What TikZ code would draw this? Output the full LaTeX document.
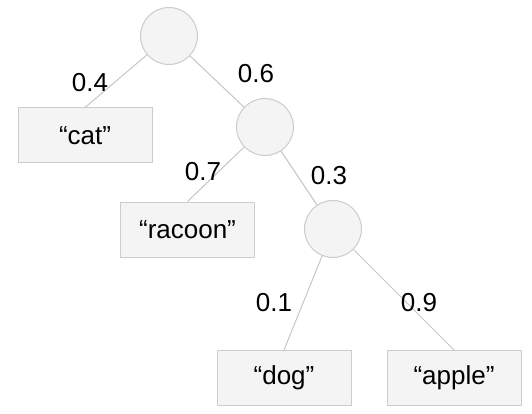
\documentclass[tikz,border=0pt]{standalone}
\usepackage{fontspec}
\setmainfont{Liberation Sans}
\definecolor{nodefill}{HTML}{F4F4F4}
\definecolor{nodeline}{HTML}{CCCCCC}
\definecolor{edgeline}{HTML}{C6C6C6}
\tikzset{
	split/.style={circle, draw=nodeline, fill=nodefill, line width=1pt, minimum size=57pt, inner sep=0pt},
	leaf/.style={rectangle, draw=nodeline, fill=nodefill, line width=1pt, minimum width=134pt, minimum height=55pt, inner sep=0pt, font=\fontsize{26}{30}\selectfont},
	prob/.style={font=\fontsize{26}{30}\selectfont, inner sep=0pt},
	branch/.style={draw=edgeline, line width=1pt}
}
\begin{document}
\begin{tikzpicture}[x=1pt, y=-1pt]
	\useasboundingbox (0,0) rectangle (532,414);

	% inner nodes and leaves
	\node[split] (root) at (169,36) {};
	\node[split] (mid) at (265,127) {};
	\node[split] (low) at (333,229) {};
	\node[leaf] (cat) at (85,135.5) {“cat”};
	\node[leaf] (racoon) at (187.5,229.5) {“racoon”};
	\node[leaf] (dog) at (284,378) {“dog”};
	\node[leaf] (apple) at (454,378) {“apple”};

	% branches
	\draw[branch] (root) -- (cat.north);
	\draw[branch] (root) -- (mid);
	\draw[branch] (mid) -- (racoon.north);
	\draw[branch] (mid) -- (low);
	\draw[branch] (low) -- (dog.north);
	\draw[branch] (low) -- (apple.north);

	% probabilities
	\node[prob] (p_cat) at (90,83) {0.4};
	\node[prob] (p_mid) at (256,74) {0.6};
	\node[prob] (p_racoon) at (203,172) {0.7};
	\node[prob] (p_low) at (329,176) {0.3};
	\node[prob] (p_dog) at (274,303) {0.1};
	\node[prob] (p_apple) at (419,303) {0.9};
\end{tikzpicture}
\end{document}
